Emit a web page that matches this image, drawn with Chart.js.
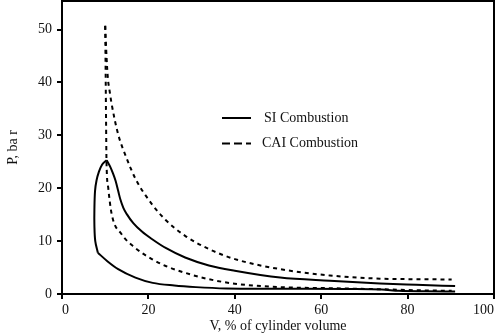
<!DOCTYPE html>
<html>
<head>
<meta charset="utf-8">
<script src="https://cdn.jsdelivr.net/npm/chart.js@4"></script>
<style>
  html, body { margin: 0; padding: 0; background: #fff; }
  #wrap { width: 500px; height: 335px; }
</style>
</head>
<body>
<div id="wrap"><canvas id="pvChart"></canvas></div>
<script>
// values (V in % of cylinder volume, P in bar)
const xTicks = [0, 20, 40, 60, 80, 100];
const yTicks = [0, 10, 20, 30, 40, 50];

// SI: compression stroke (ignition corner out to bottom dead centre)
const siCompV = [8.3, 10.5, 13, 17, 21, 26, 31, 38, 46, 56, 66, 74, 78, 84, 91];
const siCompP = [7.8, 6.2, 4.7, 3.1, 2.1, 1.6, 1.3, 1.05, 1.0, 1.0, 0.95, 0.85, 0.6, 0.5, 0.45];
// SI: pressure rise from the corner up to the peak
const siRiseV = [8.3, 7.7, 7.5, 7.5, 7.65, 8.0, 8.5, 9.3, 10.35];
const siRiseP = [7.8, 10, 13, 16, 19.5, 21.5, 23, 24.5, 25.3];
// SI: expansion after the peak
const siExpV = [10.35, 11.2, 11.8, 12.4, 13.0, 13.5, 14.2, 15.0, 16.5, 18.5, 20.8, 24, 28.5, 34, 40, 50.5, 62, 73.6, 82, 91];
const siExpP = [25.3, 24.0, 22.8, 21.4, 19.5, 17.9, 16.3, 15.1, 13.4, 11.8, 10.4, 8.7, 6.9, 5.4, 4.4, 3.1, 2.5, 2.0, 1.75, 1.5];

// CAI: compression (peak out to bottom dead centre)
const caiCompV = [10.0, 10.1, 10.2, 10.3, 10.7, 11.5, 13.8, 16.9, 20.8, 24, 28.5, 34, 40, 50.5, 62, 73.6, 80, 90.2];
const caiCompP = [50.7, 42, 32.7, 25.1, 20.1, 15.1, 11.3, 8.75, 6.6, 5.3, 4.0, 2.8, 1.95, 1.3, 1.1, 0.9, 0.75, 0.6];
// CAI: expansion from the peak
const caiExpV = [10.0, 10.3, 10.6, 11.0, 11.5, 13.0, 15.0, 17.0, 20.8, 24, 28.5, 34, 40, 50.5, 62, 73.6, 82, 90.2];
const caiExpP = [50.7, 45, 41, 38.5, 35.9, 30.2, 25.6, 21.8, 17.0, 14.0, 11.0, 8.5, 6.6, 4.7, 3.5, 2.9, 2.8, 2.75];

const legendItems = ['SI Combustion', 'CAI Combustion'];

const serif = "'Liberation Serif', 'Times New Roman', serif";
const pts = (vs, ps) => vs.map((v, i) => ({ x: v, y: ps[i] }));

const solid = { borderColor: '#000', borderWidth: 2, pointRadius: 0, showLine: true, fill: false, cubicInterpolationMode: 'monotone' };
const dashed = { ...solid, borderDash: [4, 4] };

// frame round the plot + the small legend in the middle
const frameAndLegend = {
  id: 'frameAndLegend',
  afterDraw(chart) {
    const { ctx, chartArea: a } = chart;
    ctx.save();
    ctx.strokeStyle = '#000';
    ctx.lineWidth = 2;
    ctx.strokeRect(a.left, a.top, a.right - a.left, a.bottom - a.top);

    ctx.font = '14px ' + serif;
    ctx.fillStyle = '#111';
    ctx.textBaseline = 'middle';
    ctx.beginPath();
    ctx.moveTo(222, 118); ctx.lineTo(251, 118);
    ctx.stroke();
    ctx.fillText(legendItems[0], 264, 118);

    ctx.setLineDash([8, 4]);
    ctx.beginPath();
    ctx.moveTo(222, 143.5); ctx.lineTo(251, 143.5);
    ctx.stroke();
    ctx.setLineDash([]);
    ctx.fillText(legendItems[1], 262, 143.5);
    ctx.restore();
  }
};

new Chart(document.getElementById('pvChart'), {
  type: 'scatter',
  data: {
    datasets: [
      { label: 'SI compression', data: pts(siCompV, siCompP), ...solid },
      { label: 'SI rise', data: pts(siRiseV, siRiseP), ...solid, cubicInterpolationMode: 'default', tension: 0.35 },
      { label: 'SI expansion', data: pts(siExpV, siExpP), ...solid },
      { label: 'CAI compression', data: pts(caiCompV, caiCompP), ...dashed },
      { label: 'CAI expansion', data: pts(caiExpV, caiExpP), ...dashed }
    ]
  },
  options: {
    responsive: true,
    maintainAspectRatio: false,
    animation: false,
    layout: { padding: { top: 1, right: 6, left: 0, bottom: 0 } },
    plugins: { legend: { display: false }, tooltip: { enabled: false } },
    scales: {
      x: {
        type: 'linear', min: 0, max: 100,
        afterFit: s => { s.height = 41; s.paddingLeft = 0; s.paddingRight = 0; },
        afterBuildTicks: s => { s.ticks = xTicks.map(v => ({ value: v })); },
        ticks: { color: '#111', font: { family: serif, size: 14 }, padding: 3, maxRotation: 0, align: 'inner' },
        grid: { drawOnChartArea: false, drawTicks: true, tickLength: 5, color: '#000', lineWidth: 2 },
        border: { display: true, color: '#000', width: 2 },
        title: { display: true, text: 'V, % of cylinder volume', color: '#111', font: { family: serif, size: 14 }, padding: 0 }
      },
      y: {
        type: 'linear', min: 0, max: 55.4,
        afterFit: s => { s.width = 62; s.paddingTop = 0; s.paddingBottom = 0; },
        afterBuildTicks: s => { s.ticks = yTicks.map(v => ({ value: v })); },
        ticks: { color: '#111', font: { family: serif, size: 14 }, padding: 5 },
        grid: { drawOnChartArea: false, drawTicks: true, tickLength: 5, color: '#000', lineWidth: 2 },
        border: { display: true, color: '#000', width: 2 },
        title: { display: true, text: 'P, ba r', color: '#111', font: { family: serif, size: 14 }, padding: { top: 5, bottom: 0 } }
      }
    }
  },
  plugins: [frameAndLegend]
});
</script>
</body>
</html>
